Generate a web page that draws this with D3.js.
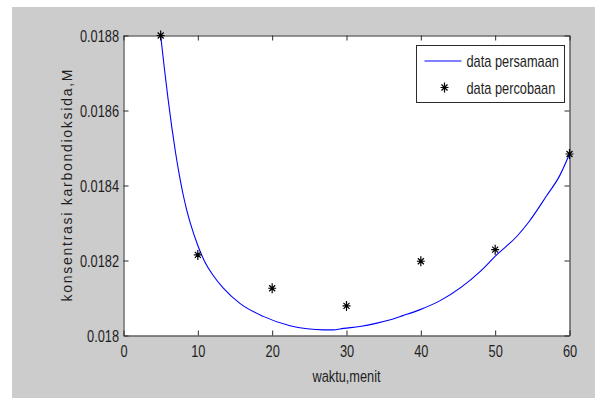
<!DOCTYPE html>
<html>
<head>
<meta charset="utf-8">
<script src="https://cdn.jsdelivr.net/npm/d3@7"></script>
<style>
  body { margin: 0; background: #ffffff; }
  svg { display: block; }
</style>
</head>
<body>
<div id="chart"></div>
<script>
// data
var timeObs = [5, 10, 20, 30, 40, 50, 60];
var concObs = [0.0188, 0.018215, 0.018126, 0.018079, 0.018198, 0.018229, 0.018484];

var timeFit = [5, 5.5, 6, 6.5, 7, 7.5, 8, 8.5, 9, 10, 11, 12, 13.4, 15.7, 18.8, 22.4, 24.7, 26.9,
  28.2, 29.6, 31.8, 34.1, 35.9, 37.6, 39.9, 42.6, 48, 50.2, 52.9, 54.5, 56.9, 58.7, 60];
var concFit = [0.0188, 0.018712, 0.01863, 0.018555, 0.018488, 0.018429, 0.018378, 0.018335,
  0.018299, 0.01824, 0.018194, 0.018162, 0.018127, 0.018085, 0.018051, 0.018026, 0.018018,
  0.018015, 0.018015, 0.018019, 0.018024, 0.018033, 0.018042, 0.018053, 0.018069, 0.018093,
  0.018171, 0.018215, 0.018264, 0.018302, 0.018372, 0.018427, 0.018484];

var xTicks = [0, 10, 20, 30, 40, 50, 60];
var yTicks = [0.018, 0.0182, 0.0184, 0.0186, 0.0188];
var yTickLabels = ["0.018", "0.0182", "0.0184", "0.0186", "0.0188"];
var legendLabels = ["data persamaan", "data percobaan"];

var svgWidth = 595;
var svgHeight = 398;

var margin = { top: 35.5, right: 25.5, bottom: 62.5, left: 123.5 };
var width = svgWidth - margin.left - margin.right;
var height = svgHeight - margin.top - margin.bottom;

var axisColor = "#2b2b2b";
var textColor = "#1e1e1e";
var squeeze = 0.8;   // the figure's font is a narrow one

var svg = d3.select("#chart")
  .append("svg")
  .attr("width", svgWidth)
  .attr("height", svgHeight);

// grey figure background
svg.append("rect")
  .attr("x", 12)
  .attr("y", 7)
  .attr("width", svgWidth - 12)
  .attr("height", svgHeight - 7)
  .attr("fill", "#cccccc");

var chartGroup = svg.append("g")
  .attr("transform", `translate(${margin.left}, ${margin.top})`);

chartGroup.append("rect")
  .attr("width", width)
  .attr("height", height)
  .attr("fill", "#ffffff");

var xScale = d3.scaleLinear().domain([0, 60]).range([0, width]);
var yScale = d3.scaleLinear().domain([0.018, 0.0188]).range([height, 0]);

function styleAxis(g) {
  g.select(".domain").attr("stroke", axisColor);
  g.selectAll(".tick line").attr("stroke", axisColor);
  g.selectAll("text")
    .attr("fill", textColor)
    .style("font-family", "'Liberation Sans', Arial, sans-serif")
    .style("font-size", "16px");
}

// bottom axis, ticks pointing in
var bottomAxis = d3.axisBottom(xScale)
  .tickValues(xTicks)
  .tickSizeInner(-5)
  .tickSizeOuter(0);

var xAxisG = chartGroup.append("g")
  .attr("transform", `translate(0, ${height})`)
  .call(bottomAxis)
  .call(styleAxis);
xAxisG.selectAll("text")
  .attr("y", 22)
  .attr("dy", 0)
  .attr("transform", `scale(${squeeze},1)`);

// left axis
var leftAxis = d3.axisLeft(yScale)
  .tickValues(yTicks)
  .tickFormat(function(d, i) { return yTickLabels[i]; })
  .tickSizeInner(-5)
  .tickSizeOuter(0);

var yAxisG = chartGroup.append("g")
  .call(leftAxis)
  .call(styleAxis);
yAxisG.selectAll("text")
  .attr("x", -4.5 / squeeze)
  .attr("dy", "0.36em")
  .attr("transform", `scale(${squeeze},1)`);

// top and right box edges with inward ticks, no labels
chartGroup.append("g")
  .call(d3.axisTop(xScale).tickValues(xTicks).tickSizeInner(-5).tickSizeOuter(0).tickFormat(""))
  .call(styleAxis);

chartGroup.append("g")
  .attr("transform", `translate(${width}, 0)`)
  .call(d3.axisRight(yScale).tickValues(yTicks).tickSizeInner(-5).tickSizeOuter(0).tickFormat(""))
  .call(styleAxis);

// fitted curve
var fitData = timeFit.map(function(t, i) { return { t: t, c: concFit[i] }; });

var line = d3.line()
  .x(d => xScale(d.t))
  .y(d => yScale(d.c))
  .curve(d3.curveMonotoneX);

chartGroup.append("path")
  .datum(fitData)
  .attr("d", line)
  .attr("fill", "none")
  .attr("stroke", "#0000ff")
  .attr("stroke-width", 1.1);

// star markers
var starPath = "M0,-5V5M-4,0H4M-3,-3L3,3M-3,3L3,-3";
var obsData = timeObs.map(function(t, i) { return { t: t, c: concObs[i] }; });

chartGroup.selectAll(".star")
  .data(obsData)
  .enter()
  .append("path")
  .attr("class", "star")
  .attr("transform", d => `translate(${xScale(d.t)}, ${yScale(d.c)})`)
  .attr("d", starPath)
  .attr("fill", "none")
  .attr("stroke", "#000000")
  .attr("stroke-width", 1.2);

// axis labels
svg.append("text")
  .attr("transform", `translate(${margin.left + width / 2}, 381.5) scale(${squeeze},1)`)
  .attr("text-anchor", "middle")
  .attr("fill", textColor)
  .style("font-family", "'Liberation Sans', Arial, sans-serif")
  .style("font-size", "16px")
  .text("waktu,menit");

svg.append("text")
  .attr("transform", `translate(71.5, ${margin.top + height / 2}) rotate(-90)`)
  .attr("text-anchor", "middle")
  .attr("fill", textColor)
  .attr("textLength", 232)
  .attr("lengthAdjust", "spacing")
  .style("font-family", "'Liberation Sans', Arial, sans-serif")
  .style("font-size", "14px")
  .text("konsentrasi karbondioksida,M");

// legend
var legend = svg.append("g").attr("transform", "translate(416.5, 45.5)");

legend.append("rect")
  .attr("width", 148)
  .attr("height", 57)
  .attr("fill", "#ffffff")
  .attr("stroke", axisColor);

legend.append("line")
  .attr("x1", 8)
  .attr("x2", 45)
  .attr("y1", 15.5)
  .attr("y2", 15.5)
  .attr("stroke", "#0000ff")
  .attr("stroke-width", 1.1);

legend.append("path")
  .attr("transform", "translate(28, 42)")
  .attr("d", starPath)
  .attr("fill", "none")
  .attr("stroke", "#000000")
  .attr("stroke-width", 1.2);

legend.selectAll(".legend-text")
  .data(legendLabels)
  .enter()
  .append("text")
  .attr("class", "legend-text")
  .attr("transform", (d, i) => `translate(50, ${21.5 + i * 26.5}) scale(${squeeze},1)`)
  .attr("fill", textColor)
  .style("font-family", "'Liberation Sans', Arial, sans-serif")
  .style("font-size", "16px")
  .text(d => d);
</script>
</body>
</html>
